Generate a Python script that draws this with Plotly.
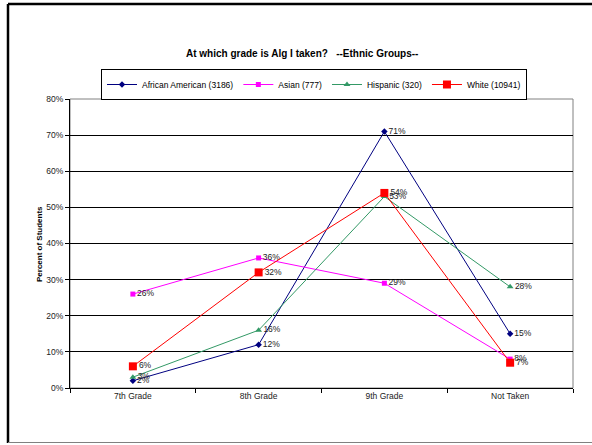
import plotly.graph_objects as go

# Grade at which Algebra I is taken, by ethnic group (percent of students)
categories = ["7th Grade", "8th Grade", "9th Grade", "Not Taken"]
african_american = [2, 12, 71, 15]
asian = [26, 36, 29, 8]
hispanic = [3, 16, 53, 28]
white = [6, 32, 54, 7]

series_names = ["African American (3186)", "Asian (777)", "Hispanic (320)", "White (10941)"]
y_ticks = [0, 10, 20, 30, 40, 50, 60, 70, 80]
y_tick_labels = [f"{v}%" for v in y_ticks]

FONT = "Liberation Sans, Arial, sans-serif"

W, H = 592, 445
L, R, T, B = 70, 19, 99, 57
PW, PH = W - L - R, H - T - B


def px_x(x):
    return (x - L) / PW


def px_y(y):
    return (H - B - y) / PH


styles = [
    dict(color="#000080", symbol="diamond", size=5),
    dict(color="#FF00FF", symbol="square", size=5),
    dict(color="#339966", symbol="triangle-up", size=6),
    dict(color="#FF0000", symbol="square", size=8),
]

fig = go.Figure()
for name, vals, st in zip(series_names, [african_american, asian, hispanic, white], styles):
    fig.add_trace(go.Scatter(
        x=categories, y=vals, name=name,
        mode="lines+markers+text",
        line=dict(color=st["color"], width=1),
        marker=dict(color=st["color"], symbol=st["symbol"], size=st["size"],
                    line=dict(width=0)),
        text=[f"{v}%" for v in vals],
        textposition="middle right",
        textfont=dict(family=FONT, size=8.5, color="#222222"),
        cliponaxis=False,
    ))

shapes = [
    # plot-area frame
    dict(type="rect", xref="paper", yref="paper", x0=0, x1=1, y0=0, y1=1,
         line=dict(color="#808080", width=1), layer="below"),
    # outer chart border
    dict(type="line", xref="paper", yref="paper", x0=px_x(8), x1=px_x(8),
         y0=px_y(443), y1=px_y(4), line=dict(color="black", width=2.5)),
    dict(type="line", xref="paper", yref="paper", x0=px_x(8), x1=px_x(600),
         y0=px_y(4), y1=px_y(4), line=dict(color="black", width=2.5)),
    dict(type="line", xref="paper", yref="paper", x0=px_x(8), x1=px_x(600),
         y0=px_y(442.5), y1=px_y(442.5), line=dict(color="#808080", width=1)),
]

annotations = [
    dict(text="At which grade is Alg I taken?\u00a0\u00a0\u00a0--Ethnic Groups--",
         xref="paper", yref="paper", x=px_x(302), y=px_y(53),
         xanchor="center", yanchor="middle", showarrow=False,
         font=dict(family=FONT, size=10, color="black", weight="bold")),
    dict(text="Percent of Students", textangle=-90,
         xref="paper", yref="paper", x=px_x(39), y=px_y(244),
         xanchor="center", yanchor="middle", showarrow=False,
         font=dict(family=FONT, size=8, color="black", weight="bold")),
]

fig.update_layout(
    width=W, height=H,
    margin=dict(l=L, r=R, t=T, b=B),
    paper_bgcolor="white", plot_bgcolor="white",
    font=dict(family=FONT, size=8, color="black"),
    showlegend=True,
    legend=dict(
        orientation="h", x=px_x(314), y=px_y(69), xanchor="center", yanchor="top",
        bordercolor="black", borderwidth=1, bgcolor="white",
        font=dict(family=FONT, size=8.5, color="black"),
        itemwidth=30, tracegroupgap=0,
    ),
    xaxis=dict(
        type="category", range=[-0.5, 3.5],
        showline=True, linecolor="black", linewidth=1,
        ticks="outside", tickson="boundaries", ticklen=4, tickcolor="black",
        showgrid=False, zeroline=False,
        tickfont=dict(family=FONT, size=8.5, color="#222222"),
    ),
    yaxis=dict(
        range=[0, 80], tickmode="array", tickvals=y_ticks, ticktext=y_tick_labels,
        showline=True, linecolor="black", linewidth=1,
        ticks="outside", ticklen=4, tickcolor="black",
        showgrid=True, gridcolor="#000000", gridwidth=1,
        zeroline=False,
        tickfont=dict(family=FONT, size=8.5, color="#222222"),
    ),
    shapes=shapes,
    annotations=annotations,
)

fig.write_html("out.html")
